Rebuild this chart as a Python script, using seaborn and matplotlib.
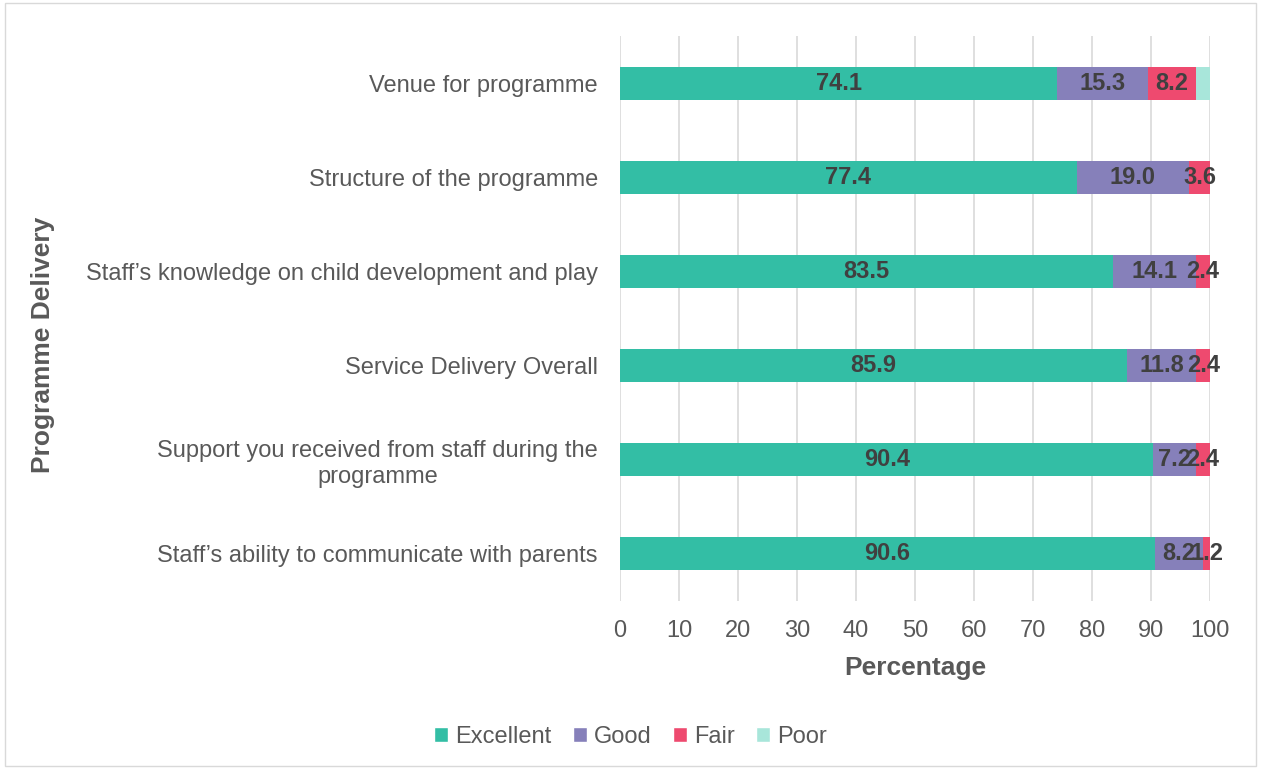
import numpy as np
import pandas as pd
import matplotlib.pyplot as plt
import seaborn as sns
from matplotlib.patches import Patch, Rectangle

categories = ['Venue for programme',
              'Structure of the programme',
              'Staff\u2019s knowledge on child development and play',
              'Service Delivery Overall',
              'Support you received from staff during the\nprogramme',
              'Staff\u2019s ability to communicate with parents']
excellent = [74.1, 77.4, 83.5, 85.9, 90.4, 90.6]
good = [15.3, 19.0, 14.1, 11.8, 7.2, 8.2]
fair = [8.2, 3.6, 2.4, 2.4, 2.4, 1.2]
poor = [2.4, 0.0, 0.0, 0.0, 0.0, 0.0]

series = ['Excellent', 'Good', 'Fair', 'Poor']
colors = ['#33BEA5', '#8680BA', '#EE4A6F', '#A8E6DA']

sns.set_style('white')
plt.rcParams['font.family'] = ['Liberation Sans', 'DejaVu Sans']

df = pd.DataFrame({'cat': categories, 'Excellent': excellent, 'Good': good,
                   'Fair': fair, 'Poor': poor})
cum = df[series].cumsum(axis=1)

fig = plt.figure(figsize=(12.61, 7.69), dpi=100)
ax = fig.add_axes([0.4917, 0.2185, 0.4679, 0.7347])

# draw stacked bars from the total backwards so each layer overlays
for s, c in reversed(list(zip(series, colors))):
    sns.barplot(x=cum[s], y=df['cat'], orient='h', color=c, width=0.35,
                saturation=1, linewidth=0, ax=ax, order=categories)

# value labels (Poor is not labelled)
for i in range(len(categories)):
    start = 0
    for s in series:
        v = df[s].iloc[i]
        if s != 'Poor' and v > 0:
            ax.text(start + v / 2, i, f'{v:.1f}', ha='center', va='center',
                    fontsize=17, fontweight='bold', color='#404040', zorder=5)
        start += v

ax.set_xlim(0, 100)
ax.set_ylim(5.5, -0.5)
ax.set_xticks(np.arange(0, 101, 10))
ax.grid(axis='x', color='#D9D9D9', linewidth=1.2)
ax.set_axisbelow(True)
for sp in ax.spines.values():
    sp.set_visible(False)
ax.tick_params(axis='both', length=0, labelsize=17, labelcolor='#595959')
ax.tick_params(axis='x', pad=14)
ax.tick_params(axis='y', pad=16)
for lbl in ax.get_yticklabels():
    lbl.set_multialignment('center')

ax.set_xlabel('Percentage', fontsize=19, fontweight='bold', color='#595959')
ax.set_ylabel('Programme Delivery', fontsize=19, fontweight='bold', color='#595959')
ax.xaxis.set_label_coords(0.5, -0.097)
ax.yaxis.set_label_coords(-0.958, 0.453)

handles = [Patch(facecolor=c, label=s) for s, c in zip(series, colors)]
leg = fig.legend(handles=handles, loc='center', bbox_to_anchor=(0.5, 0.042),
                 ncol=4, frameon=False, fontsize=17, handlelength=0.6,
                 handleheight=0.6, handletextpad=0.3, columnspacing=0.9)
for t in leg.get_texts():
    t.set_color('#595959')

fig.patches.append(Rectangle((0.004, 0.004), 0.992, 0.992, transform=fig.transFigure,
                             fill=False, edgecolor='#D9D9D9', linewidth=1))

fig.savefig('out.png', dpi=100)
